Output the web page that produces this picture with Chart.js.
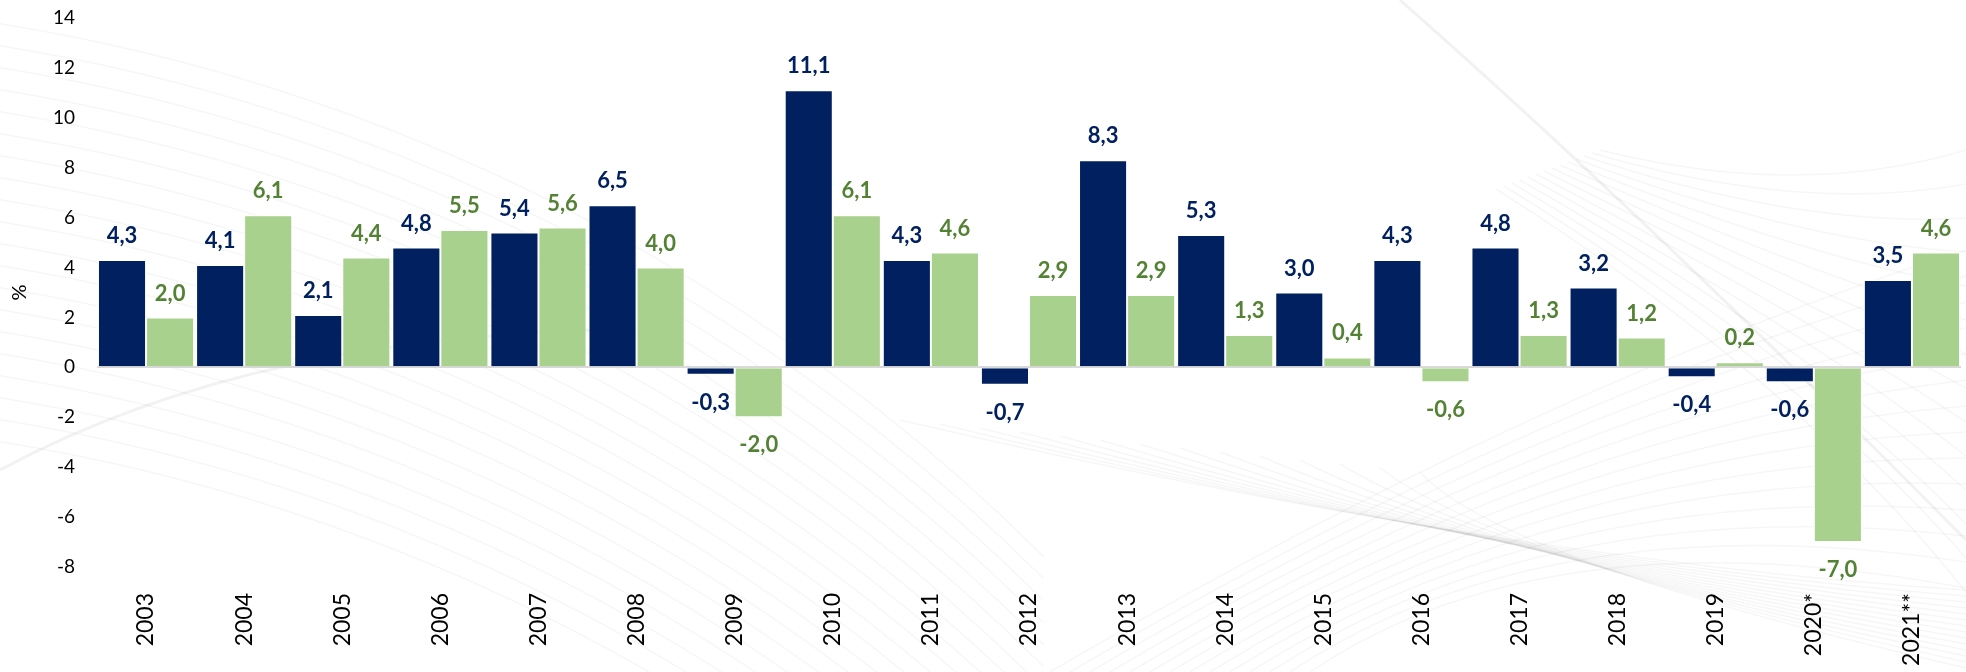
<!DOCTYPE html>
<html>
<head>
<meta charset="utf-8">
<script src="https://cdn.jsdelivr.net/npm/chart.js@4.4.0/dist/chart.umd.min.js"></script>
<style>
  html, body { margin: 0; padding: 0; background: #fff; }
  #wrap { width: 1966px; height: 672px; }
</style>
</head>
<body>
<div id="wrap"><canvas id="growth"></canvas></div>
<script>
const years = ['2003', '2004', '2005', '2006', '2007', '2008', '2009', '2010', '2011', '2012',
  '2013', '2014', '2015', '2016', '2017', '2018', '2019', '2020*', '2021**'];
const navyValues = [4.3, 4.1, 2.1, 4.8, 5.4, 6.5, -0.3, 11.1, 4.3, -0.7, 8.3, 5.3, 3.0, 4.3, 4.8, 3.2, -0.4, -0.6, 3.5];
const greenValues = [2.0, 6.1, 4.4, 5.5, 5.6, 4.0, -2.0, 6.1, 4.6, 2.9, 2.9, 1.3, 0.4, -0.6, 1.3, 1.2, 0.2, -7.0, 4.6];
const yMin = -8, yMax = 14, yStep = 2;

const NAVY = '#002060';
const GREEN = '#a9d18e';
const GREEN_TEXT = '#548235';
const FONT = 'Lato, "Open Sans", sans-serif';

// faint background swooshes, purely decorative
const swooshes = {
  id: 'swooshes',
  beforeDraw(chart) {
    const c = chart.ctx;
    c.save();
    c.fillStyle = '#fff';
    c.fillRect(0, 0, chart.width, chart.height);
    c.lineWidth = 1.5;
    c.strokeStyle = 'rgba(0,0,0,0.035)';
    // upper-left family, falling gently to the right
    for (let i = 0; i < 20; i++) {
      c.beginPath();
      c.arc(-300, 1900 + i * 22, 1900, Math.PI * 1.45, Math.PI * 1.75);
      c.stroke();
    }
    // fan on the right side
    for (let i = 0; i < 14; i++) {
      c.beginPath();
      c.moveTo(1600 - i * 8, 150 + i * 3);
      c.quadraticCurveTo(1800, 200 + i * 14, 1966, 150 + i * 34);
      c.stroke();
    }
    // crossing curves lower right
    for (let i = 0; i < 14; i++) {
      c.beginPath();
      c.moveTo(1050 + i * 20, 672);
      c.quadraticCurveTo(1550, 380 + i * 10, 1966, 250 + i * 26);
      c.stroke();
      c.beginPath();
      c.moveTo(900 + i * 40, 420 + i * 4);
      c.quadraticCurveTo(1500, 560, 1966, 590 + i * 6);
      c.stroke();
    }
    c.strokeStyle = 'rgba(0,0,0,0.05)';
    c.lineWidth = 3;
    c.beginPath();
    c.moveTo(1400, 0);
    c.quadraticCurveTo(1650, 220, 1966, 540);
    c.stroke();
    c.beginPath();
    c.moveTo(0, 470);
    c.quadraticCurveTo(260, 330, 640, 330);
    c.stroke();
    c.restore();
  }
};

// value labels above positive bars, below negative ones
const barLabels = {
  id: 'barLabels',
  afterDatasetsDraw(chart) {
    const c = chart.ctx;
    c.save();
    c.font = 'bold 22px ' + FONT;
    c.textAlign = 'center';
    c.textBaseline = 'middle';
    chart.data.datasets.forEach((ds, di) => {
      const meta = chart.getDatasetMeta(di);
      c.fillStyle = ds.labelColor;
      meta.data.forEach((bar, i) => {
        const v = ds.data[i];
        const txt = v.toFixed(1).replace('.', ',');
        const y = v >= 0 ? bar.y - 24 : bar.y + 28;
        c.fillText(txt, bar.x, y);
      });
    });
    c.restore();
  }
};

new Chart(document.getElementById('growth'), {
  type: 'bar',
  data: {
    labels: years,
    datasets: [
      { label: 'A', data: navyValues, backgroundColor: NAVY, borderColor: '#ffffff', borderWidth: 1, labelColor: NAVY },
      { label: 'B', data: greenValues, backgroundColor: GREEN, borderColor: '#ffffff', borderWidth: 1, labelColor: GREEN_TEXT }
    ]
  },
  options: {
    responsive: true,
    maintainAspectRatio: false,
    animation: false,
    layout: { padding: { top: 18, right: 5, left: 8, bottom: 0 } },
    datasets: { bar: { categoryPercentage: 0.98, barPercentage: 1.0 } },
    plugins: { legend: { display: false }, tooltip: { enabled: false } },
    scales: {
      x: {
        grid: { display: false },
        border: { display: false },
        ticks: {
          color: '#000',
          font: { family: FONT, size: 23 },
          minRotation: 90, maxRotation: 90,
          padding: 18
        },
        afterFit(s) { s.height = 105; }
      },
      y: {
        min: yMin, max: yMax,
        border: { display: false },
        grid: {
          drawTicks: false,
          lineWidth: 2,
          color: ctx => (ctx.tick && ctx.tick.value === 0) ? '#d9d9d9' : 'rgba(0,0,0,0)'
        },
        ticks: {
          stepSize: yStep,
          color: '#000',
          font: { family: FONT, size: 19 },
          padding: 22
        },
        title: {
          display: true,
          text: '%',
          color: '#000',
          font: { family: FONT, size: 20 },
          padding: { top: 0, bottom: 0 }
        },
        afterFit(s) {
          s.width = 89;
          s.paddingTop = 0;
          s.paddingBottom = 0;
        }
      }
    }
  },
  plugins: [swooshes, barLabels]
});
</script>
</body>
</html>
